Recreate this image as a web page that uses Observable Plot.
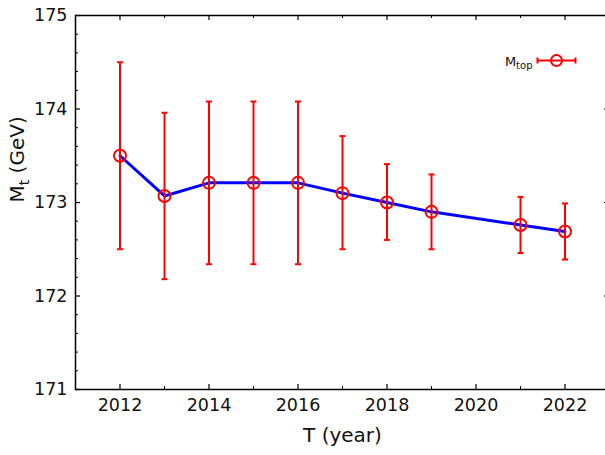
<!DOCTYPE html>
<html>
<head>
<meta charset="utf-8">
<script src="https://cdn.jsdelivr.net/npm/d3@7"></script>
<script src="https://cdn.jsdelivr.net/npm/@observablehq/plot@0.6"></script>
<style>
  html, body { margin: 0; padding: 0; background: #fff; overflow: hidden; }
  #chart { width: 605px; height: 455px; overflow: hidden; }
  #chart svg { max-width: none !important; }
</style>
</head>
<body>
<div id="chart"></div>
<script>
const years = [2012, 2013, 2014, 2015, 2016, 2017, 2018, 2019, 2021, 2022];
const mass  = [173.5, 173.07, 173.21, 173.21, 173.21, 173.1, 173.0, 172.9, 172.76, 172.69];
const errHi = [174.5, 173.96, 174.08, 174.08, 174.08, 173.71, 173.41, 173.3, 173.06, 172.99];
const errLo = [172.5, 172.18, 172.34, 172.34, 172.34, 172.5, 172.6, 172.5, 172.46, 172.39];
const xTickLabels = [2012, 2014, 2016, 2018, 2020, 2022];
const yTickLabels = [171, 172, 173, 174, 175];
const xMinor = [2011, 2013, 2015, 2017, 2019, 2021, 2023];
const yMinor = d3.range(171, 175.001, 0.2).filter(v => Math.abs(v - Math.round(v)) > 1e-6);

const data = years.map((y, i) => ({year: y, m: mass[i], hi: errHi[i], lo: errLo[i]}));

const W = 609, H = 455, mL = 75, mR = 0, mT = 15, mB = 66;
const pw = W - mL - mR, ph = H - mT - mB;

const capSymbol = { draw(ctx) { ctx.moveTo(-3, 0); ctx.lineTo(3, 0); } };
const legendGlyph = { draw(ctx) {
  ctx.moveTo(-19, 0); ctx.lineTo(19, 0);
  ctx.moveTo(-19, -3); ctx.lineTo(-19, 3);
  ctx.moveTo(19, -3); ctx.lineTo(19, 3);
} };

const plot = Plot.plot({
  width: W, height: H,
  marginLeft: mL, marginRight: mR, marginTop: mT, marginBottom: mB,
  style: { fontFamily: "DejaVu Sans, sans-serif", background: "#fff", overflow: "visible", maxWidth: "none" },
  x: { domain: [2011, 2023], axis: null },
  y: { domain: [171, 175], axis: null },
  marks: [
    Plot.axisX({ ticks: xTickLabels, tickSize: 0, tickPadding: 9, fontSize: 17.5, tickFormat: d => String(d), label: null, color: "#111" }),
    Plot.axisY({ ticks: yTickLabels, tickSize: 0, tickPadding: 8, fontSize: 17.5, tickFormat: d => String(d), label: null, color: "#111" }),
    Plot.tickX(xTickLabels, { x: d => d, insetTop: ph - 5, stroke: "black", strokeWidth: 1.2 }),
    Plot.tickX(xMinor, { x: d => d, insetTop: ph - 3, stroke: "black", strokeWidth: 1 }),
    Plot.tickX(xTickLabels, { x: d => d, insetBottom: ph - 5, stroke: "black", strokeWidth: 1.2 }),
    Plot.tickX(xMinor, { x: d => d, insetBottom: ph - 3, stroke: "black", strokeWidth: 1 }),
    Plot.tickY(yTickLabels, { y: d => d, insetRight: pw - 5, stroke: "black", strokeWidth: 1.2 }),
    Plot.tickY(yMinor, { y: d => d, insetRight: pw - 3, stroke: "black", strokeWidth: 1 }),
    Plot.tickY(yTickLabels, { y: d => d, insetLeft: pw - 5, stroke: "black", strokeWidth: 1.2 }),
    Plot.tickY(yMinor, { y: d => d, insetLeft: pw - 3, stroke: "black", strokeWidth: 1 }),
    Plot.frame({ stroke: "black", strokeWidth: 1.5 }),
    Plot.line(data, { x: "year", y: "m", stroke: "#0000ff", strokeWidth: 3 }),
    Plot.ruleX(data, { x: "year", y1: "lo", y2: "hi", stroke: "#ff0000", strokeWidth: 2 }),
    Plot.dot(data, { x: "year", y: "hi", symbol: capSymbol, stroke: "#ff0000", strokeWidth: 2, r: 3 }),
    Plot.dot(data, { x: "year", y: "lo", symbol: capSymbol, stroke: "#ff0000", strokeWidth: 2, r: 3 }),
    Plot.dot(data, { x: "year", y: "m", r: 6, stroke: "#ff0000", strokeWidth: 2, fill: "none" }),
    Plot.text(["T (year)"], { frameAnchor: "bottom", dy: 52, fontSize: 20, fill: "#111" }),
    Plot.text(["Mt (GeV)"], { frameAnchor: "left", dx: -58, rotate: -90, fontSize: 20, fill: "#111" }),
    Plot.dot([0], { frameAnchor: "top-right", dx: -53, dy: 45, symbol: legendGlyph, stroke: "#ff0000", strokeWidth: 2, r: 3 }),
    Plot.dot([0], { frameAnchor: "top-right", dx: -53, dy: 45, r: 5.5, stroke: "#ff0000", strokeWidth: 2, fill: "none" }),
    Plot.text(["Mtop"], { frameAnchor: "top-right", dx: -77, dy: 41, textAnchor: "end", fontSize: 13, fill: "#111" })
  ]
});

document.getElementById("chart").appendChild(plot);

d3.select(plot).selectAll("text").each(function() {
  const s = this.textContent;
  if (s === "Mt (GeV)") {
    const t = d3.select(this); t.text(null);
    t.append("tspan").text("M");
    t.append("tspan").attr("font-size", 14).attr("dy", 5).text("t");
    t.append("tspan").attr("dy", -5).text(" (GeV)");
  } else if (s === "Mtop") {
    const t = d3.select(this); t.text(null);
    t.append("tspan").text("M");
    t.append("tspan").attr("font-size", 10).attr("dy", 3).text("top");
  }
});
</script>
</body>
</html>
